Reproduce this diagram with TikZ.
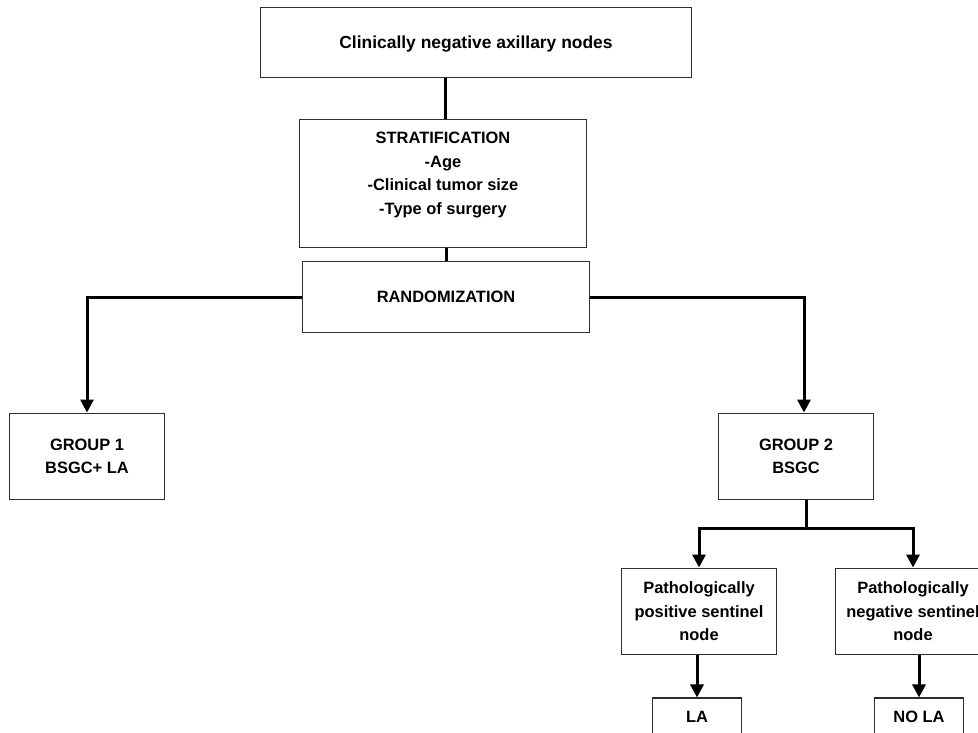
\documentclass[tikz,border=0pt]{standalone}
\usepackage{fontspec}
\setmainfont{Liberation Sans}
\usetikzlibrary{arrows.meta}
\definecolor{boxline}{HTML}{2E2E2E}
\begin{document}
\begin{tikzpicture}[x=1bp,y=-1bp,
  box/.style={draw=boxline, line width=1.2bp, fill=white, inner sep=0pt,
    font=\bfseries\fontsize{16.5}{23.5}\selectfont, align=center},
  txt/.style={inner sep=0pt, font=\bfseries\fontsize{16.5}{23.5}\selectfont, align=center},
  link/.style={line width=3bp, draw=black},
  arr/.style={link, -{Triangle[width=13bp,length=13bp]}}]

% page frame
\useasboundingbox (0,0) rectangle (978,733);
\clip (0,0) rectangle (978,733);

% boxes
\node[box, minimum width=432, minimum height=71, text depth=0pt,
  font=\bfseries\fontsize{17.5}{24}\selectfont]
  (top) at (476,42.5) {Clinically negative axillary nodes};
\node[box, minimum width=288, minimum height=129] (strat) at (443,183.5) {};
\node[txt] (strattxt) at (443,175) {STRATIFICATION\\-Age\\-Clinical tumor size\\-Type of surgery};
\node[box, minimum width=288, minimum height=72] (rand) at (446,297) {RANDOMIZATION};
\node[box, minimum width=156, minimum height=87] (g1) at (87,456.5) {GROUP 1\\BSGC+ LA};
\node[box, minimum width=156, minimum height=87] (g2) at (796,456.5) {GROUP 2\\BSGC};
\node[box, minimum width=156, minimum height=87] (pos) at (699,611.5)
  {Pathologically\\positive sentinel\\node};
\node[box, minimum width=156, minimum height=87] (neg) at (913,611.5)
  {Pathologically\\negative sentinel\\node};
\node[box, minimum width=90, minimum height=38] (la) at (697,717) {LA};
\node[box, minimum width=90, minimum height=38] (nola) at (919,717) {NO LA};

% connectors
\draw[link] ([xshift=2bp]strat.north) -- ([xshift=2bp]strat.north |- top.south);
\draw[link] (rand.north) -- (rand.north |- strat.south);
\draw[arr] (rand.west) -| (g1.north);
\draw[arr] (rand.east) -| ([xshift=8bp]g2.north);
\coordinate (split) at (806,528);
\draw[link] (split |- g2.south) -- (split);
\draw[arr] (split) -| (pos.north);
\draw[arr] (split) -| (neg.north);
\draw[arr] (pos.south -| la.north) -- (la.north);
\draw[arr] (neg.south -| nola.north) -- (nola.north);
\end{tikzpicture}
\end{document}
